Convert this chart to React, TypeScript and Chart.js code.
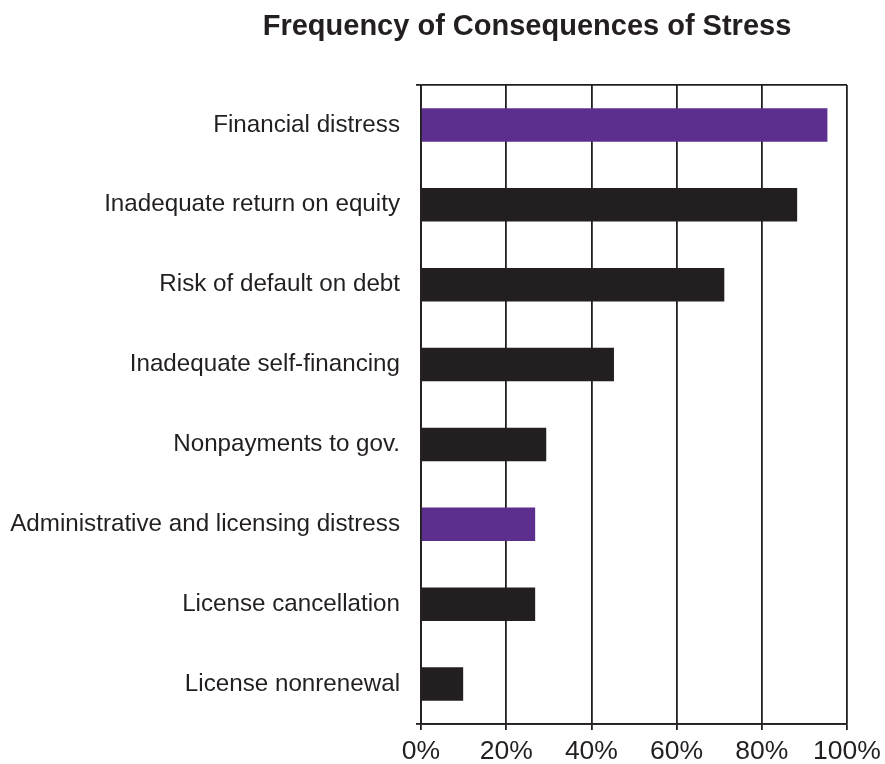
import React, { useEffect, useRef } from "react";
import { Chart, registerables } from "chart.js";

Chart.register(...registerables);

const TITLE = "Frequency of Consequences of Stress";
const CATEGORIES = [
  "Financial distress",
  "Inadequate return on equity",
  "Risk of default on debt",
  "Inadequate self-financing",
  "Nonpayments to gov.",
  "Administrative and licensing distress",
  "License cancellation",
  "License nonrenewal",
];
const VALUES = [95.4, 88.3, 71.2, 45.3, 29.4, 26.8, 26.8, 9.9];
const HIGHLIGHTED = ["Financial distress", "Administrative and licensing distress"];
const X_TICKS = [0, 20, 40, 60, 80, 100];

const DARK = "#231f20";
const PURPLE = "#5c2f8f";
const FONT = "'Liberation Sans', Arial, Helvetica, sans-serif";

export default function App() {
  const ref = useRef<HTMLCanvasElement | null>(null);

  useEffect(() => {
    if (!ref.current) return;
    const titlePlugin = {
      id: "customTitle",
      afterDraw(chart: any) {
        const ctx = chart.ctx;
        ctx.save();
        ctx.font = `bold 29px ${FONT}`;
        ctx.fillStyle = DARK;
        ctx.textAlign = "center";
        ctx.textBaseline = "alphabetic";
        ctx.fillText(TITLE, 527, 35);
        ctx.restore();
      },
    };
    const chart = new Chart(ref.current, {
      type: "bar",
      data: {
        labels: CATEGORIES,
        datasets: [
          {
            data: VALUES,
            backgroundColor: CATEGORIES.map((c) => (HIGHLIGHTED.includes(c) ? PURPLE : DARK)),
            barPercentage: 0.42,
            categoryPercentage: 1,
            borderWidth: 0,
          },
        ],
      },
      options: {
        indexAxis: "y",
        animation: false,
        responsive: true,
        maintainAspectRatio: false,
        layout: { padding: { top: 85, right: 38, left: 0, bottom: 0 } },
        plugins: {
          legend: { display: false },
          title: { display: false },
          tooltip: { enabled: false },
        },
        scales: {
          x: {
            min: 0,
            max: 100,
            afterBuildTicks: (scale: any) => {
              scale.ticks = X_TICKS.map((v) => ({ value: v }));
            },
            afterFit: (scale: any) => {
              scale.height = 40;
              scale.paddingRight = 30;
            },
            ticks: {
              callback: (v: any) => `${v}%`,
              font: { family: FONT, size: 26.5 },
              color: DARK,
              padding: 6,
              maxRotation: 0,
            },
            grid: {
              color: DARK,
              lineWidth: 1.8,
              tickLength: 6,
              drawOnChartArea: true,
            },
            border: { display: true, color: DARK, width: 1.8 },
          },
          y: {
            afterFit: (scale: any) => {
              scale.width = 421;
            },
            ticks: {
              font: { family: FONT, size: 24.2 },
              color: DARK,
              padding: 16,
            },
            grid: {
              offset: true,
              color: (ctx: any) =>
                ctx.index === 0 || ctx.index === undefined ? DARK : "rgba(0,0,0,0)",
              lineWidth: 1.8,
              tickLength: 5,
            },
            border: { display: true, color: DARK, width: 1.8 },
          },
        },
      },
      plugins: [titlePlugin],
    });
    return () => chart.destroy();
  }, []);

  return (
    <div style={{ position: "absolute", left: 0, top: 0, width: 885, height: 764, background: "#fff" }}>
      <canvas ref={ref} />
    </div>
  );
}
